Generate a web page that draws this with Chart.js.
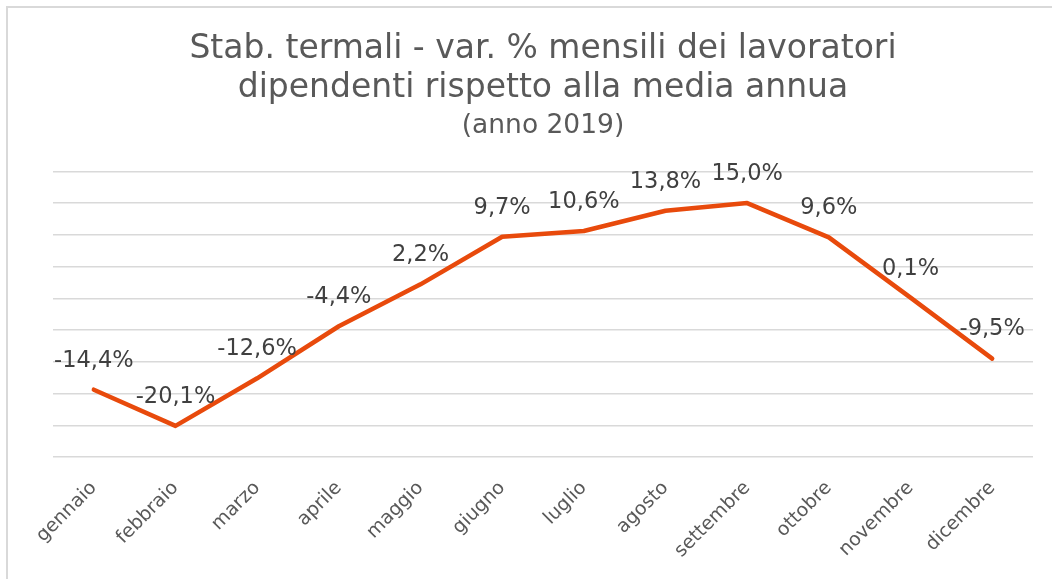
<!DOCTYPE html>
<html>
<head>
<meta charset="utf-8">
<script src="https://cdn.jsdelivr.net/npm/chart.js@4"></script>
<style>
    html, body { margin: 0; padding: 0; background: #ffffff; }
    #wrap { width: 1052px; height: 579px; position: relative; }
</style>
</head>
<body>
<div id="wrap"><canvas id="chart" width="1052" height="579"></canvas></div>
<script>
const months = ['gennaio', 'febbraio', 'marzo', 'aprile', 'maggio', 'giugno',
    'luglio', 'agosto', 'settembre', 'ottobre', 'novembre', 'dicembre'];
const variazioni = [-14.4, -20.1, -12.6, -4.4, 2.2, 9.7, 10.6, 13.8, 15.0, 9.6, 0.1, -9.5];
const titleLines = ['Stab. termali - var. % mensili dei lavoratori', 'dipendenti rispetto alla media annua'];
const subtitleText = '(anno 2019)';

const FONT = '"DejaVu Sans", Verdana, sans-serif';

// light frame on top and left, like the original screenshot
const framePlugin = {
    id: 'frame',
    beforeDraw(chart) {
        const ctx = chart.ctx;
        ctx.save();
        ctx.strokeStyle = '#d9d9d9';
        ctx.lineWidth = 2;
        ctx.beginPath();
        ctx.moveTo(7, chart.height);
        ctx.lineTo(7, 7);
        ctx.lineTo(chart.width, 7);
        ctx.stroke();
        ctx.restore();
    }
};

// value labels above each point
const valueLabels = {
    id: 'valueLabels',
    afterDatasetsDraw(chart) {
        const ctx = chart.ctx;
        const meta = chart.getDatasetMeta(0);
        ctx.save();
        ctx.font = '22.5px ' + FONT;
        ctx.fillStyle = '#404040';
        ctx.textAlign = 'center';
        ctx.textBaseline = 'middle';
        meta.data.forEach((pt, i) => {
            const txt = variazioni[i].toFixed(1).replace('.', ',') + '%';
            ctx.fillText(txt, pt.x, pt.y - 29);
        });
        ctx.restore();
    }
};

new Chart(document.getElementById('chart'), {
    type: 'line',
    data: {
        labels: months,
        datasets: [{
            data: variazioni,
            borderColor: '#E84A0C',
            backgroundColor: '#E84A0C',
            borderWidth: 4.5,
            borderCapStyle: 'round',
            borderJoinStyle: 'round',
            pointRadius: 0,
            tension: 0,
        }]
    },
    options: {
        responsive: false,
        animation: false,
        layout: { padding: { left: 53, right: 19, top: 0, bottom: 0 } },
        scales: {
            x: {
                offset: true,
                grid: { display: false, drawTicks: false },
                border: { display: false },
                ticks: {
                    color: '#595959',
                    font: { family: FONT, size: 19 },
                    minRotation: 45,
                    maxRotation: 45,
                    padding: 20,
                    autoSkip: false,
                },
                afterFit(scale) { scale.height = 122; }
            },
            y: {
                min: -25,
                max: 20,
                ticks: { display: false, stepSize: 5 },
                grid: { color: '#d9d9d9', lineWidth: 1.5, drawTicks: false },
                border: { display: false },
                afterFit(scale) { scale.width = 0; }
            }
        },
        plugins: {
            legend: { display: false },
            tooltip: { enabled: false },
            title: {
                display: true,
                text: titleLines,
                color: '#595959',
                font: { family: FONT, size: 33, weight: 'normal', lineHeight: 1.21 },
                padding: { top: 29, bottom: 2 }
            },
            subtitle: {
                display: true,
                text: subtitleText,
                color: '#595959',
                font: { family: FONT, size: 26.5, weight: 'normal', lineHeight: 1.15 },
                padding: { top: 0, bottom: 30 }
            }
        }
    },
    plugins: [framePlugin, valueLabels]
});
</script>
</body>
</html>
